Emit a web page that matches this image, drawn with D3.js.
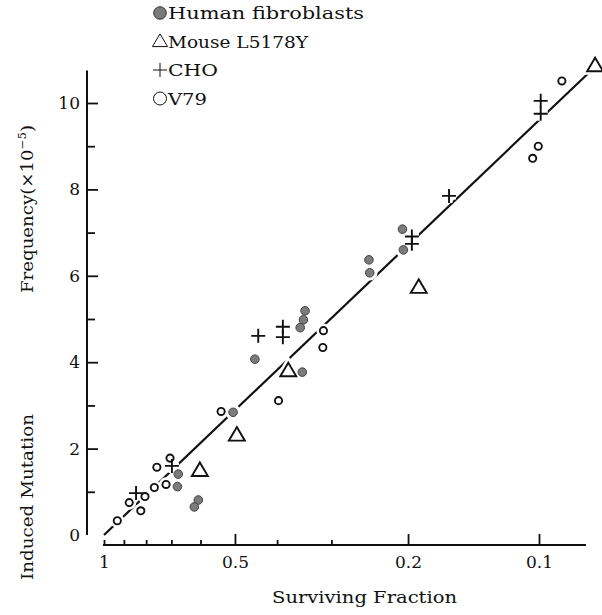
<!DOCTYPE html>
<html>
<head>
<meta charset="utf-8">
<script src="https://cdn.jsdelivr.net/npm/d3@7"></script>
<style>
body { margin: 0; background: #fff; }
text { font-family: "DejaVu Serif", "Liberation Serif", serif; fill: #111; }
</style>
</head>
<body>
<svg id="chart" width="602" height="615"></svg>
<script>
// surviving fraction (x) and induced mutation frequency x1e-5 (y)
var humanS = [0.505, 0.675, 0.678, 0.607, 0.620, 0.450, 0.345, 0.348, 0.354, 0.350, 0.246, 0.245, 0.206, 0.205];
var humanF = [2.84, 1.41, 1.12, 0.81, 0.65, 4.07, 5.19, 4.98, 4.80, 3.77, 6.37, 6.07, 7.08, 6.60];

var mouseS = [0.602, 0.495, 0.377, 0.189, 0.0743];
var mouseF = [1.49, 2.31, 3.80, 5.73, 10.86];

var choS = [0.844, 0.698, 0.442, 0.388, 0.388, 0.196, 0.196, 0.161, 0.0991, 0.0991];
var choF = [0.97, 1.60, 4.61, 4.82, 4.58, 6.91, 6.74, 7.85, 10.05, 9.75];

var v79S = [0.932, 0.875, 0.823, 0.805, 0.766, 0.720, 0.756, 0.705, 0.538, 0.397, 0.313, 0.314, 0.1034, 0.1004, 0.0886];
var v79F = [0.33, 0.75, 0.56, 0.89, 1.10, 1.17, 1.57, 1.78, 2.86, 3.11, 4.73, 4.34, 8.72, 9.00, 10.51];

// fitted line end points
var fitS = [1, 0.075];
var fitF = [0, 10.8];

var xMajor = [0.5, 0.2, 0.1];
var xMinor = [1, 0.9, 0.8, 0.7, 0.6, 0.4, 0.3];
var xLabels = [1, 0.5, 0.2, 0.1];
var yMajor = [2, 4, 6, 8, 10];
var yMinor = [1, 3, 5, 7, 9];
var yLabels = [0, 2, 4, 6, 8, 10];

var legendNames = ["Human fibroblasts", "Mouse L5178Y", "CHO", "V79"];
var legendKinds = ["filled", "triangle", "cross", "open"];
var legendWidths = [196, 140, 50, 39]; // printed text is wide-set

var svg = d3.select("#chart");

var x = d3.scaleLog() // surviving fraction, reversed log axis
	.domain([1, 0.1])
	.range([104, 539]);
var y = d3.scaleLinear()
	.domain([0, 10])
	.range([535, 103]);

var zip = function(s, f) {
	return s.map(function(d, i) { return {s: d, f: f[i]}; });
};

// ---- axes
svg.append("line") // y axis line
	.attr("x1", 87).attr("x2", 87)
	.attr("y1", y(0)).attr("y2", y(10.75))
	.attr("stroke", "#111").attr("stroke-width", 2);

var yAxisMajor = d3.axisLeft(y)
	.tickValues(yMajor)
	.tickSizeInner(-11).tickSizeOuter(0)
	.tickFormat("");
var yAxisMinor = d3.axisLeft(y)
	.tickValues(yMinor)
	.tickSizeInner(-8).tickSizeOuter(0)
	.tickFormat("");
var yAxisLab = d3.axisLeft(y)
	.tickValues(yLabels)
	.tickSize(0).tickPadding(7)
	.tickFormat(d3.format("d"));

[yAxisMajor, yAxisMinor, yAxisLab].forEach(function(ax) {
	var g = svg.append("g")
		.attr("class", "axis")
		.attr("transform", "translate(87,0)")
		.call(ax);
	g.select(".domain").remove();
	g.selectAll("line").attr("stroke", "#111").attr("stroke-width", 1.8);
	g.selectAll("text").attr("font-size", 17).attr("fill", "#111")
		.style("font-family", "'DejaVu Serif', serif");
});

svg.append("line") // x axis line
	.attr("x1", 103).attr("x2", 586)
	.attr("y1", 545).attr("y2", 545)
	.attr("stroke", "#111").attr("stroke-width", 2);

var xAxisMajor = d3.axisBottom(x)
	.tickValues(xMajor)
	.tickSizeInner(-11).tickSizeOuter(0)
	.tickFormat("");
var xAxisMinor = d3.axisBottom(x)
	.tickValues(xMinor)
	.tickSizeInner(-5).tickSizeOuter(0)
	.tickFormat("");
var xAxisLab = d3.axisBottom(x)
	.tickValues(xLabels)
	.tickSize(0).tickPadding(11)
	.tickFormat(function(d) { return String(d); });

[xAxisMajor, xAxisMinor, xAxisLab].forEach(function(ax) {
	var g = svg.append("g")
		.attr("class", "axis")
		.attr("transform", "translate(0,545)")
		.call(ax);
	g.select(".domain").remove();
	g.selectAll("line").attr("stroke", "#111").attr("stroke-width", 1.8);
	g.selectAll("text").attr("font-size", 17).attr("fill", "#111")
		.style("font-family", "'DejaVu Serif', serif");
});

svg.append("text")
	.attr("x", 272).attr("y", 603)
	.attr("font-size", 17)
	.attr("textLength", 185).attr("lengthAdjust", "spacingAndGlyphs")
	.text("Surviving Fraction");

svg.append("text")
	.attr("transform", "translate(33,580) rotate(-90)")
	.attr("font-size", 17)
	.attr("textLength", 166).attr("lengthAdjust", "spacingAndGlyphs")
	.text("Induced Mutation");

var fq = svg.append("text")
	.attr("transform", "translate(33,293) rotate(-90)")
	.attr("font-size", 17)
	.attr("textLength", 168).attr("lengthAdjust", "spacingAndGlyphs");
fq.append("tspan").text("Frequency(×10");
fq.append("tspan").attr("font-size", 11).attr("dy", -7).text("−5");
fq.append("tspan").attr("dy", 7).text(")");

// ---- fitted line
var fitLine = d3.line()
	.x(function(d) { return x(d.s); })
	.y(function(d) { return y(d.f); });

svg.append("path")
	.datum(zip(fitS, fitF))
	.attr("d", fitLine)
	.attr("fill", "none")
	.attr("stroke", "#111")
	.attr("stroke-width", 2.2);

// ---- markers
var triPath = function(w) {
	var h = w * 0.85;
	return "M0," + (-h * 0.6) + "L" + (w / 2) + "," + (h * 0.4) + "L" + (-w / 2) + "," + (h * 0.4) + "Z";
};
var crossPath = function(w) {
	var r = w / 2;
	return "M" + (-r) + ",0H" + r + "M0," + (-r) + "V" + r;
};

var drawMarkers = function(g, kind, pts, halo) {
	var sel = g.selectAll("x").data(pts).enter();
	var sw = halo ? 7 : 1.9;
	var col = halo ? "#fff" : "#111";
	if (kind === "filled" || kind === "open") {
		sel.append("circle")
			.attr("cx", function(d) { return x(d.s); })
			.attr("cy", function(d) { return y(d.f); })
			.attr("r", kind === "filled" ? 4.3 : 3.6)
			.attr("fill", halo ? "#fff" : (kind === "filled" ? "#7b7b7b" : "#fff"))
			.attr("stroke", halo ? "#fff" : (kind === "filled" ? "#444" : "#111"))
			.attr("stroke-width", halo ? sw : (kind === "filled" ? 1 : 1.9));
	} else {
		sel.append("path")
			.attr("transform", function(d) { return "translate(" + x(d.s) + "," + y(d.f) + ")"; })
			.attr("d", kind === "triangle" ? triPath(16) : crossPath(14))
			.attr("fill", halo ? "#fff" : "none")
			.attr("stroke", col)
			.attr("stroke-width", sw)
			.attr("stroke-linejoin", "miter");
	}
};

var sets = [
	["open", zip(v79S, v79F)],
	["filled", zip(humanS, humanF)],
	["triangle", zip(mouseS, mouseF)],
	["cross", zip(choS, choF)]
];

var haloG = svg.append("g");
sets.forEach(function(s) { drawMarkers(haloG, s[0], s[1], true); });
var markG = svg.append("g");
sets.forEach(function(s) { drawMarkers(markG, s[0], s[1], false); });

// ---- legend
var legend = svg.append("g").attr("class", "legend");
legendNames.forEach(function(name, i) {
	var cy = 13 + i * 28.5;
	var k = legendKinds[i];
	if (k === "filled") {
		legend.append("circle").attr("cx", 160).attr("cy", cy).attr("r", 6.3)
			.attr("fill", "#7b7b7b").attr("stroke", "#333").attr("stroke-width", 1);
	} else if (k === "open") {
		legend.append("circle").attr("cx", 160).attr("cy", cy).attr("r", 6.5)
			.attr("fill", "none").attr("stroke", "#111").attr("stroke-width", 1);
	} else {
		legend.append("path")
			.attr("transform", "translate(160," + cy + ")")
			.attr("d", k === "triangle" ? triPath(15) : crossPath(14))
			.attr("fill", "none").attr("stroke", "#111").attr("stroke-width", 1);
	}
	legend.append("text")
		.attr("x", 168).attr("y", cy + 6)
		.attr("font-size", 17)
		.attr("textLength", legendWidths[i]).attr("lengthAdjust", "spacingAndGlyphs")
		.text(name);
});
</script>
</body>
</html>
